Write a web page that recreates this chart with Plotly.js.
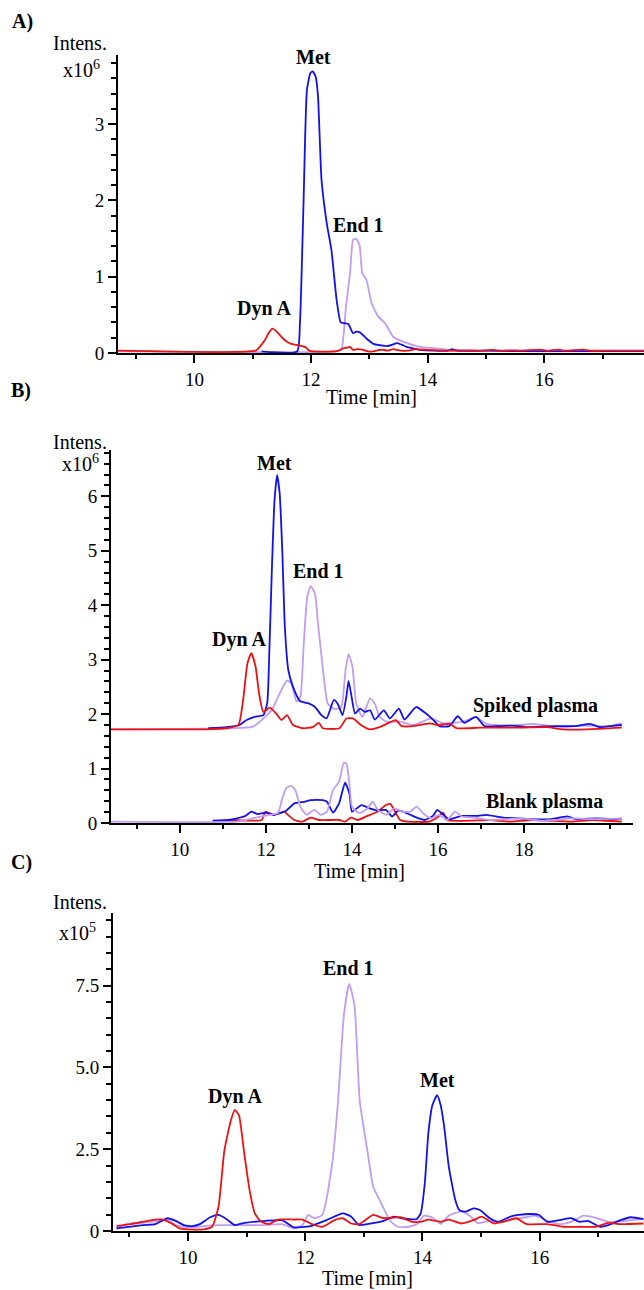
<!DOCTYPE html>
<html>
<head>
<meta charset="utf-8">
<script src="https://cdn.plot.ly/plotly-3.0.1.min.js"></script>
<style>html,body{margin:0;padding:0;background:#fff}#chart{width:644px;height:1290px}</style>
</head>
<body>
<div id="chart"></div>
<script>
// ---------- Panel A (x10^6) ----------
const aDynT = [8.69,11.05,11.12,11.21,11.28, 11.34,11.40,11.46,11.52,11.58, 11.66,11.75,11.85,11.92,11.97, 12.05,12.40,12.47,12.55,12.62, 12.67,12.72,12.80,12.90,12.97, 13.07,13.17,13.24,13.32,13.41, 13.48,13.55,13.65,13.80,14.00, 14.30,14.60,14.90,15.12,15.25, 15.46,15.60,15.93,16.05,16.24, 16.35,16.66,16.78,17.00,17.71];
const aDynV = [0.03,0.03,0.08,0.17,0.27, 0.32,0.29,0.24,0.19,0.15, 0.12,0.105,0.09,0.07,0.03, 0.02,0.02,0.03,0.06,0.07, 0.08,0.04,0.05,0.04,0.02, 0.02,0.04,0.04,0.03,0.05, 0.04,0.03,0.03,0.05,0.04, 0.03,0.035,0.03,0.04,0.03, 0.035,0.03,0.045,0.03,0.045, 0.03,0.045,0.03,0.03,0.03];
const aMetT = [11.15,11.76,11.81,11.87,11.93, 11.99,12.03,12.08,12.12,12.18, 12.27,12.35,12.44,12.51,12.58, 12.64,12.72,12.78,12.84,12.95, 13.07,13.20,13.30,13.40,13.47, 13.55,13.64,13.75,13.87,14.10, 14.35,14.42,14.50,15.00,15.50, 17.71];
const aMetV = [0.02,0.02,0.39,1.92,3.45, 3.67,3.69,3.62,3.36,2.27, 1.70,1.35,0.69,0.40,0.39, 0.38,0.26,0.28,0.27,0.19, 0.12,0.10,0.09,0.11,0.13, 0.11,0.08,0.06,0.04,0.03, 0.03,0.05,0.03,0.03,0.025, 0.025];
const aEndT = [8.69,12.45,12.52,12.56,12.60, 12.67,12.72,12.77,12.83,12.88, 12.95,13.04,13.15,13.27,13.34, 13.41,13.58,13.87,14.16,14.45, 14.80,15.50,16.20,17.71];
const aEndV = [0.02,0.02,0.04,0.25,0.61, 1.05,1.48,1.50,1.42,1.04, 0.96,0.65,0.48,0.39,0.30, 0.21,0.15,0.08,0.06,0.03, 0.03,0.025,0.02,0.02];

// ---------- Panel B spiked plasma (x10^6) ----------
const bsDynT = [8.40,10.60,11.08,11.36,11.47, 11.57,11.66,11.76,11.84,11.94, 12.09,12.24,12.36,12.49,12.63, 12.86,13.09,13.23,13.32,13.71, 13.87,14.02,14.21,14.40,14.64, 15.02,15.15,15.43,15.81,15.97, 16.28,16.43,16.98,17.75,18.53, 18.91,19.46,20.27];
const bsDynV = [1.72,1.72,1.74,1.80,2.26, 2.93,3.12,2.87,2.38,2.04, 2.12,2.01,1.89,1.98,1.80, 1.74,1.76,1.84,1.74,1.74, 1.92,1.92,1.80,1.72,1.76, 1.89,1.78,1.78,1.83,1.80, 1.82,1.74,1.75,1.75,1.76, 1.72,1.72,1.75];
const bsMetT = [10.66,11.08,11.39,11.55,11.74, 11.94,12.03,12.08,12.14,12.20, 12.26,12.32,12.38,12.44,12.52, 12.63,12.79,12.98,13.14,13.29, 13.41,13.58,13.68,13.78,13.87, 13.92,13.99,14.07,14.19,14.30, 14.42,14.53,14.74,14.88,15.09, 15.22,15.49,15.72,15.88,16.03, 16.26,16.46,16.61,16.88,17.08, 17.43,17.74,18.12,18.74,19.20, 19.53,19.77,20.08,20.27];
const bsMetV = [1.74,1.76,1.80,1.89,1.95, 1.98,2.20,3.17,4.70,5.93, 6.39,6.05,5.01,3.60,2.81, 2.50,2.24,2.20,2.13,1.98, 1.92,2.26,2.17,1.98,2.32, 2.61,2.32,2.01,2.10,2.04, 2.07,1.90,2.07,1.92,2.10, 1.90,2.13,2.01,1.90,1.78, 1.78,1.96,1.84,1.95,1.78, 1.78,1.79,1.76,1.78,1.78, 1.82,1.76,1.79,1.80];
const bsEndT = [8.40,11.16,11.70,11.94,12.13, 12.32,12.49,12.59,12.71,12.80, 12.88,12.96,13.04,13.14,13.21, 13.31,13.44,13.60,13.75,13.85, 13.92,14.01,14.10,14.24,14.42, 14.53,14.64,14.80,15.11,15.43, 15.84,16.12,16.59,16.88,17.12, 17.74,18.20,18.91,19.30,20.00, 20.27];
const bsEndV = [1.72,1.74,1.77,1.92,2.07, 2.38,2.62,2.56,2.23,2.32, 3.30,4.15,4.35,4.21,3.66, 2.93,2.19,2.09,2.13,2.81, 3.10,2.87,2.19,1.95,2.29, 2.19,1.95,1.86,1.86,1.80, 1.92,1.83,1.86,1.95,1.82, 1.79,1.82,1.76,1.79,1.78, 1.83];

// ---------- Panel B blank plasma (x10^6) ----------
const bbDynT = [11.00,11.14,11.90,11.99,12.18, 12.42,12.51,12.66,12.85,13.04, 13.23,13.70,13.84,13.98,14.13, 14.36,14.60,14.79,14.89,14.98, 15.12,15.31,15.79,15.98,16.12, 16.21,17.21,17.69,18.16,19.11, 19.58,20.27];
const bbDynV = [0.043,0.055,0.055,0.21,0.15, 0.21,0.15,0.055,0.025,0.10, 0.055,0.055,0.025,0.10,0.055, 0.13,0.21,0.33,0.35,0.24, 0.055,0.025,0.025,0.10,0.19, 0.055,0.055,0.025,0.055,0.025, 0.055,0.025];
const bbMetT = [10.76,11.14,11.33,11.52,11.66, 11.80,11.99,12.18,12.47,12.66, 12.89,13.04,13.32,13.42,13.56, 13.70,13.84,13.94,14.00,14.22, 14.41,14.60,14.79,14.93,15.08, 15.31,15.55,15.69,15.88,15.98, 16.12,16.26,16.55,16.93,17.12, 17.50,17.88,18.16,18.63,19.01, 19.20,19.68,20.06,20.27];
const bbMetV = [0.043,0.055,0.086,0.128,0.208, 0.165,0.19,0.147,0.226,0.36, 0.39,0.42,0.42,0.39,0.19, 0.36,0.74,0.54,0.21,0.33, 0.27,0.23,0.24,0.12,0.23, 0.165,0.086,0.055,0.13,0.24, 0.15,0.07,0.13,0.13,0.15, 0.10,0.086,0.07,0.07,0.12, 0.07,0.086,0.07,0.08];
const bbEndT = [8.40,11.33,11.52,11.90,12.09, 12.28,12.37,12.47,12.58,12.68, 12.80,12.94,13.13,13.27,13.42, 13.56,13.70,13.81,13.87,13.94, 14.00,14.17,14.36,14.48,14.60, 14.79,14.98,15.17,15.36,15.50, 15.65,15.84,16.02,16.21,16.40, 16.55,16.83,17.21,17.59,17.97, 18.35,18.73,19.10,19.58,20.27];
const bbEndV = [0.025,0.025,0.055,0.12,0.15, 0.18,0.42,0.64,0.68,0.61, 0.30,0.15,0.24,0.15,0.21, 0.61,0.76,1.11,1.09,0.73, 0.30,0.18,0.27,0.39,0.24, 0.15,0.27,0.21,0.21,0.30, 0.18,0.086,0.15,0.055,0.21, 0.12,0.10,0.055,0.07,0.086, 0.043,0.055,0.086,0.07,0.086];

// ---------- Panel C (x10^5) ----------
const cDynT = [8.78,9.02,9.44,9.58,9.72, 9.86,10.00,10.27,10.41,10.52, 10.62,10.73,10.80,10.87,10.96, 11.05,11.14,11.25,11.39,11.53, 11.81,11.95,12.09,12.29,12.50, 12.64,12.78,12.92,13.16,13.34, 13.62,13.83,13.97,14.10,14.31, 14.45,14.66,14.87,15.01,15.22, 15.43,15.60,15.78,16.13,16.40, 16.68,16.96,17.17,17.38,17.77];
const cDynV = [0.15,0.21,0.35,0.35,0.23, 0.08,0.05,0.05,0.13,0.74, 2.46,3.37,3.70,3.53,2.36, 1.25,0.54,0.28,0.21,0.35, 0.35,0.35,0.23,0.13,0.33, 0.39,0.23,0.21,0.49,0.39, 0.42,0.28,0.28,0.35,0.28, 0.35,0.23,0.33,0.44,0.23, 0.31,0.39,0.21,0.21,0.13, 0.13,0.13,0.25,0.21,0.23];
const cEndT = [8.78,8.95,9.23,9.51,9.65, 9.79,10.00,10.27,10.55,10.97, 11.32,11.60,11.81,11.95,12.05, 12.16,12.29,12.36,12.47,12.56, 12.66,12.75,12.84,12.93,13.06, 13.16,13.30,13.44,13.58,13.76, 13.90,14.03,14.17,14.31,14.45, 14.66,14.80,14.94,15.15,15.36, 15.57,15.78,15.92,16.13,16.33, 16.54,16.75,16.96,17.17,17.45, 17.77];
const cEndV = [0.08,0.21,0.25,0.31,0.33, 0.18,0.11,0.15,0.18,0.18, 0.18,0.21,0.08,0.18,0.49, 0.39,0.49,0.94,2.2,3.98, 6.6,7.55,6.9,3.98,2.46, 1.35,0.84,0.33,0.13,0.13, 0.21,0.47,0.41,0.22,0.47, 0.59,0.47,0.24,0.31,0.28, 0.37,0.42,0.47,0.31,0.21, 0.28,0.47,0.40,0.28,0.31, 0.37];
const cMetT = [8.78,8.88,9.23,9.44,9.65, 9.79,9.93,10.07,10.20,10.38, 10.52,10.66,10.80,10.97,11.32, 11.60,11.74,11.81,12.09,12.36, 12.64,12.78,12.92,13.06,13.34, 13.51,13.65,13.90,13.97,14.04, 14.10,14.17,14.25,14.31,14.37, 14.45,14.56,14.63,14.73,14.87, 14.98,15.15,15.29,15.50,15.64, 15.85,15.99,16.13,16.33,16.54, 16.68,16.82,17.03,17.17,17.38, 17.55,17.77];
const cMetV = [0.08,0.10,0.18,0.21,0.39, 0.31,0.18,0.15,0.21,0.42, 0.49,0.36,0.18,0.25,0.31, 0.33,0.18,0.11,0.15,0.33, 0.54,0.44,0.18,0.21,0.31, 0.44,0.39,0.36,0.54,1.46, 2.98,3.85,4.15,3.85,3.2, 1.96,0.95,0.64,0.59,0.69, 0.64,0.39,0.28,0.44,0.49, 0.52,0.49,0.28,0.33,0.39, 0.28,0.31,0.13,0.18,0.33, 0.42,0.36];

// tick labels
const xTicksA = [10,12,14,16];
const xTicksB = [10,12,14,16,18];
const xMinorB = [9,11,13,15,17,19,20];
const yTicksC = [0,2.5,5,7.5];
const yTextC = ['0','2.5','5.0','7.5'];

// ---------- styling ----------
const W = 644, H = 1290;
const BLUE = '#1111ee', RED = '#ee1111', PURPLE = '#c39cf2';
const SERIF = 'Liberation Serif, Times New Roman, serif';
const px = v => v / W, py = v => 1 - v / H;

function tr(x, y, color, ax) {
  return {x: x, y: y, type: 'scatter', mode: 'lines',
          line: {color: color, width: 1.8, shape: 'spline', smoothing: 0.5},
          xaxis: 'x' + ax, yaxis: 'y' + ax, hoverinfo: 'skip', showlegend: false};
}
const data = [
  tr(aEndT, aEndV, PURPLE, ''), tr(aMetT, aMetV, BLUE, ''), tr(aDynT, aDynV, RED, ''),
  tr(bsEndT, bsEndV, PURPLE, '2'), tr(bsMetT, bsMetV, BLUE, '2'), tr(bsDynT, bsDynV, RED, '2'),
  tr(bbDynT, bbDynV, RED, '2'), tr(bbMetT, bbMetV, BLUE, '2'), tr(bbEndT, bbEndV, PURPLE, '2'),
  tr(cEndT, cEndV, PURPLE, '3'), tr(cMetT, cMetV, BLUE, '3'), tr(cDynT, cDynV, RED, '3')
];

const tickFont = {family: SERIF, size: 19, color: '#000'};
function axis(domain, range, anchor, extra) {
  return Object.assign({domain: domain, range: range, anchor: anchor, showline: true, linecolor: '#000', linewidth: 2,
    ticks: 'outside', ticklen: 8, tickwidth: 2, tickcolor: '#000', showgrid: false, zeroline: false,
    tickfont: tickFont, fixedrange: true}, extra);
}
function minor(extra) {
  return Object.assign({ticks: 'outside', tickwidth: 2, tickcolor: '#000', showgrid: false}, extra);
}

function ann(text, x, y, opts) {
  return Object.assign({text: text, x: px(x), y: py(y), xref: 'paper', yref: 'paper', showarrow: false,
    xanchor: 'center', yanchor: 'middle', font: {family: SERIF, size: 20, color: '#000'}}, opts || {});
}
const annotations = [
  ann('<b>A)</b>', 22, 22), ann('Intens.', 79.5, 43), ann('x10<sup>6</sup>', 102, 69, {xanchor: 'right'}),
  ann('<b>Met</b>', 313, 57), ann('<b>End 1</b>', 358, 225), ann('<b>Dyn A</b>', 264, 308),
  ann('Time [min]', 371, 397),
  ann('<b>B)</b>', 21, 390), ann('Intens.', 79.5, 442), ann('x10<sup>6</sup>', 101, 463, {xanchor: 'right'}),
  ann('<b>Met</b>', 274, 463), ann('<b>End 1</b>', 318.5, 571), ann('<b>Dyn A</b>', 239, 639),
  ann('<b>Spiked plasma</b>', 535, 705), ann('<b>Blank plasma</b>', 544, 801),
  ann('Time [min]', 359, 871),
  ann('<b>C)</b>', 21, 862), ann('Intens.', 79.5, 902), ann('x10<sup>5</sup>', 98, 932, {xanchor: 'right'}),
  ann('<b>Dyn A</b>', 235, 1096), ann('<b>End 1</b>', 348, 968), ann('<b>Met</b>', 437, 1080),
  ann('Time [min]', 367, 1278)
];

const layout = {
  width: W, height: H, margin: {l: 0, r: 0, t: 0, b: 0}, paper_bgcolor: '#fff', plot_bgcolor: '#fff',
  showlegend: false,
  xaxis: axis([118 / W, 1], [8.69, 17.71], 'y', {tickmode: 'array', tickvals: xTicksA,
    minor: minor({tickmode: 'linear', tick0: 0, dtick: 1, ticklen: 4})}),
  yaxis: axis([1 - 353 / H, 1 - 55 / H], [0, 3.906], 'x', {tickmode: 'linear', tick0: 0, dtick: 1,
    minor: minor({tickmode: 'linear', tick0: 0, dtick: 0.2, ticklen: 5})}),
  xaxis2: axis([111 / W, 633 / W], [8.40, 20.53], 'y2', {tickmode: 'array', tickvals: xTicksB,
    minor: minor({tickmode: 'array', tickvals: xMinorB, ticklen: 4})}),
  yaxis2: axis([1 - 823 / H, 1 - 450 / H], [0, 6.85], 'x2', {tickmode: 'linear', tick0: 0, dtick: 1,
    minor: minor({tickmode: 'linear', tick0: 0, dtick: 0.2, ticklen: 5})}),
  xaxis3: axis([113 / W, 1], [8.72, 17.78], 'y3', {tickmode: 'array', tickvals: xTicksA,
    minor: minor({tickmode: 'linear', tick0: 0, dtick: 1, ticklen: 4})}),
  yaxis3: axis([1 - 1231 / H, 1 - 913 / H], [0, 9.72], 'x3', {tickmode: 'array', tickvals: yTicksC, ticktext: yTextC,
    minor: minor({tickmode: 'linear', tick0: 0, dtick: 0.5, ticklen: 5})}),
  annotations: annotations
};

Plotly.newPlot('chart', data, layout, {staticPlot: true, displayModeBar: false});
</script>
</body>
</html>
